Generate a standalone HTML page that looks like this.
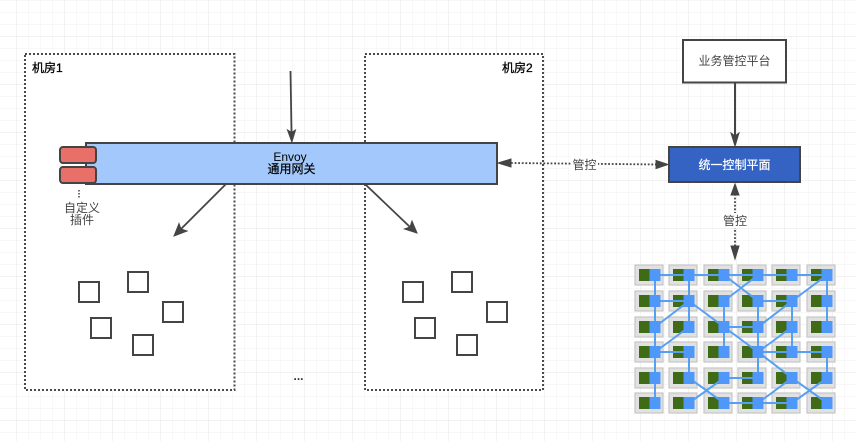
<!DOCTYPE html>
<html><head><meta charset="utf-8">
<style>
html,body{margin:0;padding:0;background:#fff}
svg{display:block}
text{font-family:"Liberation Sans","Noto Sans CJK SC",sans-serif;font-size:12px}
</style></head>
<body>
<svg width="856" height="441" viewBox="0 0 856 441" xmlns="http://www.w3.org/2000/svg">
<defs>
<pattern id="minorV" x="16.5" y="0" width="12" height="12" patternUnits="userSpaceOnUse">
<path d="M0 0V12" fill="none" stroke="#f0f0f0" stroke-width="1"/>
</pattern>
<pattern id="minorH" x="0" y="0.5" width="12" height="12" patternUnits="userSpaceOnUse">
<path d="M0 0H12" fill="none" stroke="#f0f0f0" stroke-width="1"/>
</pattern>
<pattern id="majorV" x="16.5" y="0" width="48" height="48" patternUnits="userSpaceOnUse">
<path d="M0 0V48" fill="none" stroke="#e5e5e5" stroke-width="1"/>
</pattern>
<pattern id="majorH" x="0" y="36.5" width="48" height="48" patternUnits="userSpaceOnUse">
<path d="M0 0H48" fill="none" stroke="#e5e5e5" stroke-width="1"/>
</pattern>
<g id="c">
<rect x="-20" y="-10" width="28" height="20" fill="#e1e1e1" stroke="#c6c6c6" stroke-width="1.200"/>
<rect x="-16" y="-6" width="11" height="12" fill="#3f6b17"/>
</g>
<rect id="b" x="-5.500" y="-6" width="11" height="12" fill="#4f97f9"/>
</defs>
<rect width="856" height="441" fill="#fff"/>
<rect x="0" y="0" width="856" height="441" fill="url(#minorH)"/>
<rect x="16" y="0" width="840" height="441" fill="url(#minorV)"/>
<rect x="0" y="0" width="856" height="441" fill="url(#majorH)"/>
<rect x="16" y="0" width="840" height="441" fill="url(#majorV)"/>

<!-- rooms -->
<rect x="25" y="54" width="209.500" height="336" fill="#fff"/>
<rect x="365" y="54" width="178" height="336" fill="#fff"/>
<path d="M25 54H234.500V390H25Z" fill="none" stroke="#4a4a4a" stroke-width="2" stroke-dasharray="2 2"/>
<path d="M365 54H543V390H365Z" fill="none" stroke="#4a4a4a" stroke-width="2" stroke-dasharray="2 2"/>
<text x="32" y="72" fill="#000" stroke="#000" stroke-width=".3">机房1</text>
<text x="502" y="72" fill="#000" stroke="#000" stroke-width=".3">机房2</text>

<!-- gateway -->
<rect x="86" y="143" width="411" height="41" fill="#a3c8fb" stroke="#444" stroke-width="2"/>
<text x="290" y="161" text-anchor="middle" fill="#000">Envoy</text>
<text x="291.500" y="173" text-anchor="middle" fill="#000" stroke="#000" stroke-width=".2">通用网关</text>
<rect x="60" y="147" width="36" height="16" rx="3" fill="#e87069" stroke="#444" stroke-width="2"/>
<rect x="60" y="167" width="36" height="16" rx="3" fill="#e87069" stroke="#444" stroke-width="2"/>
<path d="M79 190V198" stroke="#444" stroke-width="1.500" stroke-dasharray="1.500 1.500"/>
<text x="82" y="212" text-anchor="middle" fill="#444">自定义</text>
<text x="82" y="224" text-anchor="middle" fill="#444">插件</text>

<!-- arrows gateway -->
<path d="M290.500 71L291.500 132" stroke="#444" stroke-width="1.800" fill="none"/>
<path d="M291.800 142L287.500 130L291.500 132.500L295.500 130Z" fill="#444" stroke="#444"/>
<path d="M226 184L181 229" stroke="#444" stroke-width="1.800"/>
<path d="M174 236L179 223.500L181 229L187 231Z" fill="#444" stroke="#444"/>
<path d="M366 185L410 227" stroke="#444" stroke-width="1.800"/>
<path d="M417 233L404.500 229L410 227L412 221Z" fill="#444" stroke="#444"/>

<!-- nodes -->
<g fill="#fff" stroke="#444" stroke-width="2">
<rect x="79" y="282" width="20" height="20"/>
<rect x="128" y="272" width="20" height="20"/>
<rect x="163" y="302" width="20" height="20"/>
<rect x="91" y="318" width="20" height="20"/>
<rect x="133" y="335" width="20" height="20"/>
<rect x="403" y="282" width="20" height="20"/>
<rect x="452" y="272" width="20" height="20"/>
<rect x="487" y="302" width="20" height="20"/>
<rect x="415" y="318" width="20" height="20"/>
<rect x="457" y="335" width="20" height="20"/>
</g>
<text x="298.500" y="380" text-anchor="middle" fill="#333" font-weight="bold">...</text>

<!-- control -->
<rect x="683" y="40" width="103" height="42.500" fill="#fff" stroke="#444" stroke-width="2"/>
<text x="734.500" y="65" text-anchor="middle" fill="#444">业务管控平台</text>
<path d="M735 83V137" stroke="#444" stroke-width="2"/>
<path d="M735 146L731 133L735 136L739 133Z" fill="#444" stroke="#444"/>
<rect x="669" y="147" width="131" height="35" fill="#3463c4" stroke="#444" stroke-width="2"/>
<text x="734.500" y="169" text-anchor="middle" fill="#fff" stroke="#fff" stroke-width=".2">统一控制平面</text>

<path d="M511 163L660 164.500" stroke="#444" stroke-width="1.800" stroke-dasharray="1.800 1.800" fill="none"/>
<path d="M498 163L511 159V167Z" fill="#444" stroke="#444"/>
<path d="M668 164.500L656 160.500V168.500Z" fill="#444" stroke="#444"/>
<rect x="571" y="156" width="27" height="16" fill="#fff"/>
<text x="584.500" y="169" text-anchor="middle" fill="#444">管控</text>

<path d="M735 194V250" stroke="#444" stroke-width="1.800" stroke-dasharray="1.800 1.800"/>
<path d="M735 184L731 195H739Z" fill="#444" stroke="#444"/>
<path d="M735 259L731 246H739Z" fill="#444" stroke="#444"/>
<rect x="722" y="213" width="26" height="15" fill="#fff"/>
<text x="735" y="225" text-anchor="middle" fill="#444">管控</text>

<!-- mesh cells -->
<use href="#c" x="655" y="275"/><use href="#c" x="689" y="275"/><use href="#c" x="724" y="275"/><use href="#c" x="758" y="275"/><use href="#c" x="792" y="275"/><use href="#c" x="827" y="275"/>
<use href="#c" x="655" y="301"/><use href="#c" x="689" y="301"/><use href="#c" x="724" y="301"/><use href="#c" x="758" y="301"/><use href="#c" x="792" y="301"/><use href="#c" x="827" y="301"/>
<use href="#c" x="655" y="327"/><use href="#c" x="689" y="327"/><use href="#c" x="724" y="327"/><use href="#c" x="758" y="327"/><use href="#c" x="792" y="327"/><use href="#c" x="827" y="327"/>
<use href="#c" x="655" y="352"/><use href="#c" x="689" y="352"/><use href="#c" x="724" y="352"/><use href="#c" x="758" y="352"/><use href="#c" x="792" y="352"/><use href="#c" x="827" y="352"/>
<use href="#c" x="655" y="378"/><use href="#c" x="689" y="378"/><use href="#c" x="724" y="378"/><use href="#c" x="758" y="378"/><use href="#c" x="792" y="378"/><use href="#c" x="827" y="378"/>
<use href="#c" x="655" y="403"/><use href="#c" x="689" y="403"/><use href="#c" x="724" y="403"/><use href="#c" x="758" y="403"/><use href="#c" x="792" y="403"/><use href="#c" x="827" y="403"/>

<!-- mesh links -->
<path fill="none" stroke="#55a0f4" stroke-width="2" d="
M655 275H827
M655 275V403
M689 275V327
M655 301H689
M689 301L655 327
M689 301L724 327
M724 275L758 301
M758 275L724 301
M724 301V352
M724 327H758
M724 327L758 352
M758 301V378
M758 301H792
M792 301L758 327
M827 275L792 301
M792 301V352
M792 327L758 352
M758 352H827
M758 352L792 378
M827 275V327
M827 352V378
M689 327L655 352
M655 352H689
M689 352V378
M689 378L724 403
M724 378L689 403
M724 378H758
M724 403H792
M758 403L792 378
M792 378L827 403
M827 378L792 403"/>

<!-- mesh blue -->
<use href="#b" x="655" y="275"/><use href="#b" x="689" y="275"/><use href="#b" x="724" y="275"/><use href="#b" x="758" y="275"/><use href="#b" x="792" y="275"/><use href="#b" x="827" y="275"/>
<use href="#b" x="655" y="301"/><use href="#b" x="689" y="301"/><use href="#b" x="724" y="301"/><use href="#b" x="758" y="301"/><use href="#b" x="792" y="301"/><use href="#b" x="827" y="301"/>
<use href="#b" x="655" y="327"/><use href="#b" x="689" y="327"/><use href="#b" x="724" y="327"/><use href="#b" x="758" y="327"/><use href="#b" x="792" y="327"/><use href="#b" x="827" y="327"/>
<use href="#b" x="655" y="352"/><use href="#b" x="689" y="352"/><use href="#b" x="724" y="352"/><use href="#b" x="758" y="352"/><use href="#b" x="792" y="352"/><use href="#b" x="827" y="352"/>
<use href="#b" x="655" y="378"/><use href="#b" x="689" y="378"/><use href="#b" x="724" y="378"/><use href="#b" x="758" y="378"/><use href="#b" x="792" y="378"/><use href="#b" x="827" y="378"/>
<use href="#b" x="655" y="403"/><use href="#b" x="689" y="403"/><use href="#b" x="724" y="403"/><use href="#b" x="758" y="403"/><use href="#b" x="792" y="403"/><use href="#b" x="827" y="403"/>
</svg>
</body></html>
